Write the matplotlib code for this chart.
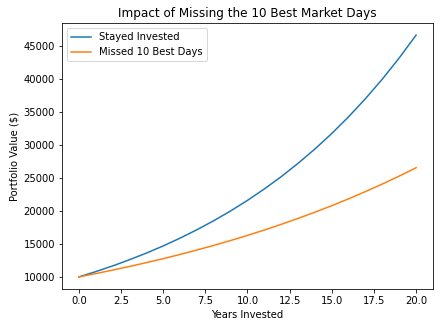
import matplotlib
matplotlib.use("Agg")
import matplotlib.pyplot as plt

# ── Data ──────────────────────────────────────────────────────────────────────

years = list(range(0, 21))

stayed_invested = [10000, 10800, 11660, 12600, 13600, 14690, 15870, 17140,
                   18510, 19990, 21590, 23320, 25180, 27200, 29370, 31720,
                   34260, 37000, 39960, 43160, 46610]

missed_best_days = [10000, 10500, 11030, 11580, 12160, 12760, 13400, 14070,
                    14770, 15510, 16290, 17100, 17960, 18860, 19800, 20790,
                    21830, 22920, 24070, 25270, 26530]

# ── Plot ──────────────────────────────────────────────────────────────────────

fig = plt.figure(figsize=(440 / 72, 327 / 72), dpi=72)
ax = fig.add_axes([62 / 440, 38 / 327, 371 / 440, 266 / 327])

ax.plot(years, stayed_invested, label="Stayed Invested")
ax.plot(years, missed_best_days, label="Missed 10 Best Days")

ax.set_title("Impact of Missing the 10 Best Market Days")
ax.set_xlabel("Years Invested")
ax.set_ylabel("Portfolio Value ($)")
ax.legend(loc="upper left")

fig.savefig("out.png", dpi=72)
